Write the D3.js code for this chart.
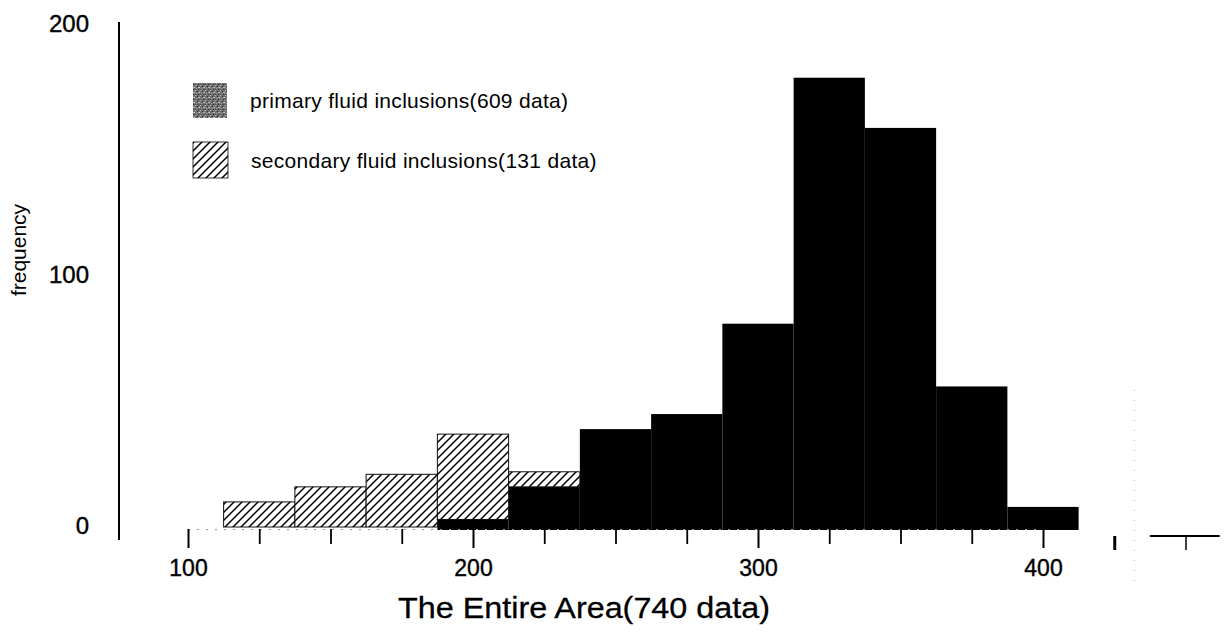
<!DOCTYPE html>
<html>
<head>
<meta charset="utf-8">
<script src="https://cdn.jsdelivr.net/npm/d3@7"></script>
<style>
  body { margin: 0; background: #fff; }
  svg { display: block; font-family: "Liberation Sans", Arial, sans-serif; }
</style>
</head>
<body>
<svg id="chart" width="1226" height="632"></svg>
<script>
// bin centres (bin width 25)
const primaryBins = [200, 225, 250, 275, 300, 325, 350, 375, 400];
const primaryCounts = [3, 16, 39, 45, 81, 179, 159, 56, 8];
const secondaryBins = [125, 150, 175, 200, 225];
const secondaryCounts = [10, 16, 21, 34, 6];

const xLabelTicks = [100, 200, 300, 400];
const xMinorTicks = [125, 150, 175, 225, 250, 275, 325, 350, 375];
const xExtraTicks = [425, 450];
const yTicks = [0, 100, 200];
const binWidth = 25;

const svg = d3.select("#chart");

// --- scales ---
const x = d3.scaleLinear().domain([100, 400]).range([188, 1043]);
const y = d3.scaleLinear().domain([0, 200]).range([527, 25]);
const baseY = y(0);

// --- patterns ---
const defs = svg.append("defs");
const hatch = defs.append("pattern")
  .attr("id", "hatch")
  .attr("patternUnits", "userSpaceOnUse")
  .attr("width", 8).attr("height", 8);
hatch.append("rect").attr("width", 8).attr("height", 8).attr("fill", "#fff");
hatch.append("path")
  .attr("d", "M-2,2 l4,-4 M0,8 l8,-8 M6,10 l4,-4")
  .attr("stroke", "#000").attr("stroke-width", 1.5);

// speckled grey for legend swatch
const speck = defs.append("pattern")
  .attr("id", "speck")
  .attr("patternUnits", "userSpaceOnUse")
  .attr("width", 5).attr("height", 5);
speck.append("rect").attr("width", 5).attr("height", 5).attr("fill", "#707070");
[[0, 0, "#c0c0c0"], [2, 1, "#2a2a2a"], [4, 2, "#cfcfcf"], [1, 3, "#9a9a9a"], [3, 4, "#333"], [3, 2, "#aaa"], [0, 4, "#444"]]
  .forEach(([px, py, c]) => speck.append("rect")
    .attr("x", px).attr("y", py).attr("width", 1).attr("height", 1).attr("fill", c));

// --- primary bars (black) ---
const primary = primaryBins.map((b, i) => ({ bin: b, n: primaryCounts[i] }));
const primaryLookup = new Map(primary.map(d => [d.bin, d.n]));

svg.append("g").selectAll("rect")
  .data(primary)
  .join("rect")
  .attr("x", d => x(d.bin - binWidth / 2))
  .attr("width", d => x(d.bin + binWidth / 2) - x(d.bin - binWidth / 2))
  .attr("y", d => y(d.n))
  .attr("height", d => baseY - y(d.n) + 3)
  .attr("fill", "#000");

// --- secondary bars (hatched, stacked on primary) ---
const secondary = secondaryBins.map((b, i) => ({
  bin: b, n: secondaryCounts[i], base: primaryLookup.get(b) || 0
}));

svg.append("g").selectAll("rect")
  .data(secondary)
  .join("rect")
  .attr("x", d => x(d.bin - binWidth / 2))
  .attr("width", d => x(d.bin + binWidth / 2) - x(d.bin - binWidth / 2))
  .attr("y", d => y(d.base + d.n))
  .attr("height", d => y(d.base) - y(d.base + d.n))
  .attr("fill", "url(#hatch)")
  .attr("stroke", "#111")
  .attr("stroke-width", 1);

// --- y axis ---
const yAxisG = svg.append("g")
  .attr("transform", "translate(119,0)")
  .call(d3.axisLeft(y).tickValues(yTicks).tickSize(0).tickPadding(30));
yAxisG.select(".domain").remove();
yAxisG.selectAll("text")
  .attr("font-size", 24)
  .attr("font-family", "Liberation Sans, Arial, sans-serif")
  .attr("fill", "#000")
  .attr("stroke", "#000").attr("stroke-width", 0.4)
  .attr("dy", "0.25em");
svg.append("line")
  .attr("x1", 119).attr("x2", 119)
  .attr("y1", 22).attr("y2", 540)
  .attr("stroke", "#000").attr("stroke-width", 2);

// --- x axis ---
const xAxisG = svg.append("g")
  .attr("transform", `translate(0,${baseY + 2})`)
  .call(d3.axisBottom(x).tickValues(xLabelTicks).tickSize(19).tickPadding(12).tickFormat(d3.format("d")));
xAxisG.select(".domain")
  .attr("stroke", "#999")
  .attr("stroke-dasharray", "2,7");
xAxisG.selectAll(".tick line").attr("stroke", "#000").attr("stroke-width", 2);
xAxisG.selectAll("text")
  .attr("font-size", 23)
  .attr("font-family", "Liberation Sans, Arial, sans-serif")
  .attr("fill", "#000")
  .attr("stroke", "#000").attr("stroke-width", 0.4);

const xMinorG = svg.append("g")
  .attr("transform", `translate(0,${baseY + 2})`)
  .call(d3.axisBottom(x).tickValues(xMinorTicks).tickSize(15).tickFormat(""));
xMinorG.select(".domain").remove();
xMinorG.selectAll(".tick line").attr("stroke", "#000").attr("stroke-width", 1.8);

// stray axis pieces to the right of the plot
const xExtraG = svg.append("g")
  .attr("transform", `translate(0,${baseY + 9})`)
  .call(d3.axisBottom(x).tickValues(xExtraTicks).tickSize(14).tickFormat(""));
xExtraG.select(".domain").remove();
xExtraG.selectAll(".tick line").attr("stroke", "#000").attr("stroke-width", 1.5);
xExtraG.selectAll(".tick line").filter((d, i) => i === 0).attr("stroke-width", 3);
svg.append("line")
  .attr("x1", x(437.5)).attr("x2", x(462))
  .attr("y1", baseY + 9).attr("y2", baseY + 9)
  .attr("stroke", "#000").attr("stroke-width", 2);
svg.append("line")
  .attr("x1", x(432)).attr("x2", x(432))
  .attr("y1", 390).attr("y2", 590)
  .attr("stroke", "#aaa").attr("stroke-dasharray", "1,9");

// --- axis titles ---
svg.append("text")
  .attr("x", 584).attr("y", 618)
  .attr("text-anchor", "middle")
  .attr("font-size", 29)
  .attr("textLength", 372)
  .attr("lengthAdjust", "spacingAndGlyphs")
  .attr("stroke", "#000").attr("stroke-width", 0.3)
  .text("The Entire Area(740 data)");

svg.append("text")
  .attr("transform", "translate(26,250) rotate(-90)")
  .attr("text-anchor", "middle")
  .attr("font-size", 21)
  .text("frequency");

// --- legend ---
const legend = svg.append("g");
legend.append("rect")
  .attr("x", 193).attr("y", 83).attr("width", 34).attr("height", 35)
  .attr("fill", "url(#speck)");
legend.append("text")
  .attr("x", 250).attr("y", 108)
  .attr("font-size", 21)
  .style("letter-spacing", "0.3px")
  .text("primary fluid inclusions(609 data)");

legend.append("rect")
  .attr("x", 193).attr("y", 142).attr("width", 35).attr("height", 36)
  .attr("fill", "url(#hatch)")
  .attr("stroke", "#000").attr("stroke-width", 0.8);
legend.append("text")
  .attr("x", 251).attr("y", 168)
  .attr("font-size", 21)
  .style("letter-spacing", "0.3px")
  .text("secondary fluid inclusions(131 data)");
</script>
</body>
</html>
